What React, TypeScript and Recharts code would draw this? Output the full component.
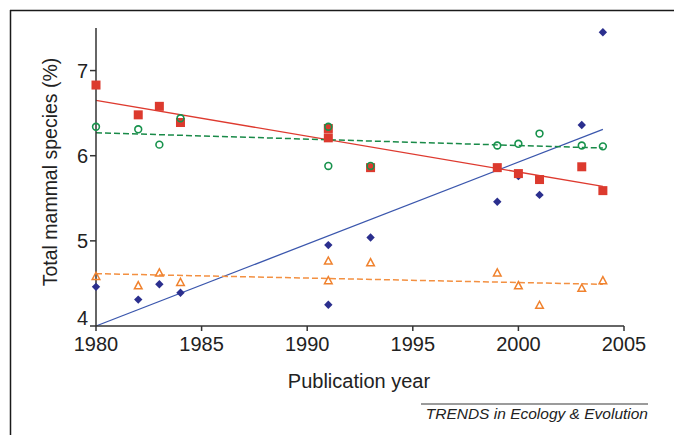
import React from 'react'
import { ScatterChart, Scatter, XAxis, YAxis, ReferenceLine } from 'recharts'

const years = [1980, 1982, 1983, 1984, 1991, 1991, 1993, 1999, 2000, 2001, 2003, 2004]
const redValues = [6.83, 6.48, 6.58, 6.39, 6.32, 6.21, 5.86, 5.86, 5.79, 5.72, 5.87, 5.59]
const greenValues = [6.34, 6.31, 6.13, 6.44, 6.34, 5.88, 5.88, 6.12, 6.14, 6.26, 6.12, 6.11]
const blueValues = [4.46, 4.31, 4.49, 4.39, 4.95, 4.25, 5.04, 5.46, 5.76, 5.54, 6.36, 7.45]
const orangeValues = [4.58, 4.47, 4.62, 4.51, 4.76, 4.53, 4.74, 4.62, 4.47, 4.24, 4.44, 4.53]

// fitted trend lines, read at 1980 and 2004
const fitYears = [1980, 2004]
const redFit = [6.65, 5.64]
const greenFit = [6.27, 6.09]
const blueFit = [4.0, 6.31]
const orangeFit = [4.615, 4.49]

const xTicks = [1980, 1985, 1990, 1995, 2000, 2005]
const yTicks = [4, 5, 6, 7]

const FONT = '"Liberation Sans", Arial, sans-serif'
const AXIS = '#333'

const toPoints = (vals: number[]) => years.map((year, i) => ({ year, v: vals[i] }))
const toSegment = (vals: number[]) => fitYears.map((x, i) => ({ x, y: vals[i] }))

const SquareShape = (p: any) => (
  <rect x={p.cx - 4.5} y={p.cy - 4.5} width={9} height={9} fill="#dc3a2e" />
)
const CircleShape = (p: any) => (
  <circle cx={p.cx} cy={p.cy} r={3.4} fill="none" stroke="#17924c" strokeWidth={1.6} />
)
const DiamondShape = (p: any) => (
  <polygon
    points={`${p.cx},${p.cy - 4.2} ${p.cx + 4.2},${p.cy} ${p.cx},${p.cy + 4.2} ${p.cx - 4.2},${p.cy}`}
    fill="#2b2f8e"
  />
)
const TriangleShape = (p: any) => (
  <polygon
    points={`${p.cx},${p.cy - 4.3} ${p.cx + 3.8},${p.cy + 2.8} ${p.cx - 3.8},${p.cy + 2.8}`}
    fill="none"
    stroke="#f0822e"
    strokeWidth={1.5}
  />
)

// the lowest y label sits a little higher so it clears the 1980 label
const YTick = (p: any) => {
  const lift = p.payload.value === yTicks[0] ? 8 : 0
  return (
    <text
      x={p.x}
      y={p.y - lift}
      dy="0.355em"
      textAnchor="end"
      fontSize={20}
      fontFamily={FONT}
      fill="#222"
    >
      {p.payload.value}
    </text>
  )
}

export default function App() {
  const tickStyle = { fill: '#222', fontSize: 20, fontFamily: FONT }
  return (
    <div style={{ position: 'absolute', left: 0, top: 0, width: 674, height: 435, background: '#fff' }}>
      <ScatterChart width={674} height={435} margin={{ top: 28, right: 50, bottom: 79, left: 56 }}>
        <XAxis
          type="number"
          dataKey="year"
          domain={[1980, 2005]}
          ticks={xTicks}
          height={30}
          tick={tickStyle}
          tickSize={5}
          tickMargin={6}
          axisLine={{ stroke: AXIS, strokeWidth: 1.5 }}
          tickLine={{ stroke: AXIS, strokeWidth: 1.5 }}
        />
        <YAxis
          type="number"
          dataKey="v"
          domain={[4, 7.5]}
          ticks={yTicks}
          width={40}
          tick={YTick}
          tickSize={6}
          tickMargin={2}
          axisLine={{ stroke: AXIS, strokeWidth: 1.5 }}
          tickLine={{ stroke: AXIS, strokeWidth: 1.5 }}
        />
        <ReferenceLine segment={toSegment(blueFit)} stroke="#3b57ad" strokeWidth={1.3} />
        <ReferenceLine segment={toSegment(orangeFit)} stroke="#f39041" strokeWidth={1.5} strokeDasharray="6 3" />
        <ReferenceLine segment={toSegment(redFit)} stroke="#de3a2f" strokeWidth={1.3} />
        <ReferenceLine segment={toSegment(greenFit)} stroke="#198a48" strokeWidth={1.5} strokeDasharray="6 3" />
        <Scatter data={toPoints(blueValues)} shape={DiamondShape} isAnimationActive={false} />
        <Scatter data={toPoints(orangeValues)} shape={TriangleShape} isAnimationActive={false} />
        <Scatter data={toPoints(redValues)} shape={SquareShape} isAnimationActive={false} />
        <Scatter data={toPoints(greenValues)} shape={CircleShape} isAnimationActive={false} />
      </ScatterChart>
      <svg
        width={674}
        height={435}
        style={{ position: 'absolute', left: 0, top: 0, pointerEvents: 'none' }}
      >
        <line x1={10} y1={10.5} x2={674} y2={10.5} stroke="#1a1a1a" strokeWidth={1.5} />
        <line x1={10.5} y1={10} x2={10.5} y2={435} stroke="#1a1a1a" strokeWidth={1.5} />
        <text
          transform="translate(57, 172) rotate(-90)"
          textAnchor="middle"
          fontSize={19.5}
          fontFamily={FONT}
          fill="#222"
        >
          Total mammal species (%)
        </text>
        <text x={359} y={388} textAnchor="middle" fontSize={20} fontFamily={FONT} fill="#222">
          Publication year
        </text>
        <line x1={421} y1={404} x2={648} y2={404} stroke="#7a7a7a" strokeWidth={1.5} />
        <text
          x={648}
          y={419}
          textAnchor="end"
          fontSize={15.5}
          fontStyle="italic"
          fontFamily={FONT}
          fill="#222"
        >
          TRENDS in Ecology &amp; Evolution
        </text>
      </svg>
    </div>
  )
}
